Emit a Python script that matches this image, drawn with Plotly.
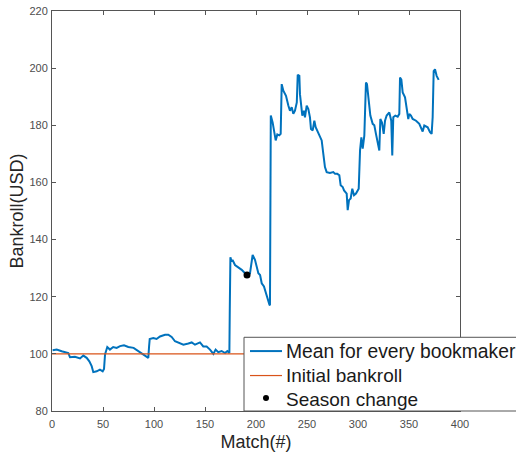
import plotly.graph_objects as go

# ---- data ----
match_no = [0.6, 4.6, 9.5, 16, 17.6, 22.5, 27.5, 30.7, 34, 36.6, 38.9, 40.5, 43.8, 47, 49.7, 51,
            52, 54.2, 56.8, 60, 63.4, 66.7, 70.6, 74.8, 80, 84.6, 89.5, 94.4, 95.2, 95.8, 99.3,
            102.5, 105.9, 110.8, 114, 117.3, 120.6, 123.9, 128.8, 133.7, 137, 140.2, 145.1,
            148.3, 151.6, 154.9, 158.2, 160.4, 163, 166.3, 169.6, 171.9, 173.5, 173.9, 174.3,
            174.9, 176.1, 177, 179.4, 182.7, 186, 189.2, 191.5, 194.1, 195.8, 196.7, 199, 200.7,
            202.3, 204, 205.6, 207.8, 209.8, 212.1, 213.2, 213.7, 214.1, 214.5, 216.3, 217.6,
            219.3, 220.9, 222.8, 224.2, 225.2, 226.8, 229.4, 231.7, 233.3, 235, 236.6, 238.2,
            240, 240.9, 242.5, 243.1, 244.1, 245.4, 247, 248, 249.7, 251.3, 252.9, 253.9, 255.6,
            257.2, 258.5, 260.5, 262.7, 264.4, 266, 267.6, 269.3, 272.5, 275.8, 277.5, 279.7,
            281.7, 283, 285, 286.3, 287.3, 288.9, 289.9, 291.2, 292.8, 294.4, 296.1, 298, 300.7,
            302, 303.3, 304.6, 306.2, 307.8, 308.8, 310.5, 312.1, 314.4, 316, 317.6, 319.3,
            320.9, 321.9, 323.5, 325.2, 326.5, 328.1, 329.7, 330.7, 331.7, 332.6, 333.6, 334.6,
            336.6, 338.9, 340.5, 341.2, 342.5, 343.8, 346.1, 347.7, 349.3, 350.3, 351.9, 353.6,
            356.9, 360.1, 363.4, 365, 368.3, 370.6, 372.2, 373.2, 374.2, 375.5, 377.1, 379.1]
bankroll = [101.3, 101.5, 100.9, 100.3, 98.8, 99.0, 98.4, 99.4, 98.6, 97.4, 95.7, 93.6, 93.9, 94.5,
            93.9, 94.7, 99.8, 102.4, 101.5, 102.4, 102.1, 102.7, 103.0, 102.4, 102.1, 100.9,
            99.8, 98.6, 102.7, 105.2, 105.5, 105.2, 106.1, 106.7, 106.7, 105.9, 104.4, 103.8,
            103.2, 103.6, 104.0, 103.2, 104.0, 102.6, 102.6, 101.5, 100.0, 101.5, 100.6, 101.0,
            100.3, 101.0, 100.3, 100.3, 116.0, 133.8, 132.3, 132.9, 131.1, 130.3, 129.4, 128.2,
            127.6, 128.2, 133.4, 134.6, 132.9, 130.5, 128.2, 127.6, 124.7, 123.6, 121.2, 117.8,
            117.2, 117.0, 168.0, 183.4, 181.0, 178.7, 174.7, 176.8, 176.5, 177.0, 194.4, 192.1,
            190.3, 186.9, 185.1, 186.3, 184.0, 185.1, 188.0, 197.7, 197.3, 190.9, 188.0, 183.4,
            185.1, 182.8, 186.9, 185.7, 182.8, 178.7, 178.2, 181.6, 179.3, 177.6, 175.8, 174.7,
            170.0, 165.4, 163.6, 163.3, 163.6, 163.0, 163.0, 162.5, 159.0, 158.4, 157.2, 156.7,
            156.1, 150.3, 153.8, 154.4, 157.8, 155.5, 156.1, 157.8, 171.2, 175.8, 171.8, 176.4,
            195.0, 194.4, 188.6, 183.4, 180.5, 180.0, 177.0, 173.5, 171.2, 182.2, 181.0, 177.0,
            181.6, 183.4, 184.0, 184.5, 183.0, 181.6, 169.4, 182.8, 183.4, 183.0, 184.0, 196.7,
            196.0, 191.5, 189.8, 186.3, 182.2, 184.0, 183.4, 182.2, 181.6, 180.5, 177.8, 179.9,
            179.3, 177.6, 177.0, 182.8, 199.0, 199.6, 197.3, 195.9]
initial_x = [0, 380]
initial_y = [100, 100]
season_x = [191.2]
season_y = [127.6]

x_ticks = [0, 50, 100, 150, 200, 250, 300, 350, 400]
y_ticks = [80, 100, 120, 140, 160, 180, 200, 220]
legend_names = ["Mean for every bookmaker", "Initial bankroll", "Season change"]

BLUE = "#0072BD"
ORANGE = "#D95319"
FONT = "Liberation Sans, Arial, sans-serif"

fig = go.Figure()
fig.add_trace(go.Scatter(x=match_no, y=bankroll, mode="lines",
                         line=dict(color=BLUE, width=2), name=legend_names[0]))
fig.add_trace(go.Scatter(x=initial_x, y=initial_y, mode="lines",
                         line=dict(color=ORANGE, width=1.2), name=legend_names[1]))
fig.add_trace(go.Scatter(x=season_x, y=season_y, mode="markers",
                         marker=dict(color="black", size=7), name=legend_names[2]))

axis_common = dict(showgrid=False, zeroline=False, showline=True, linecolor="#555555",
                   linewidth=1, mirror="ticks", ticks="inside", ticklen=4, tickwidth=1,
                   automargin=False,
                   tickcolor="#555555", tickfont=dict(family=FONT, size=11, color="#4d4d4d"))
fig.update_xaxes(range=[0, 400], tickvals=x_ticks, ticklabelstandoff=3, **axis_common,
                 title=dict(text="Match(#)", font=dict(family=FONT, size=18, color="#262626"),
                            standoff=6))
fig.update_yaxes(range=[80, 220], tickvals=y_ticks, ticklabelstandoff=1, **axis_common,
                 title=dict(text="Bankroll(USD)", font=dict(family=FONT, size=18, color="#262626"),
                            standoff=1))

# ---- custom legend box (matches MATLAB legend overflowing the figure) ----
L, R, T, B = 52, 460, 11, 411.5
W, H = R - L, B - T
def px(x):
    return (x - L) / W
def py(y):
    return (B - y) / H

fig.add_shape(type="rect", xref="paper", yref="paper", x0=px(244), x1=px(700),
              y0=0, y1=py(337.7), fillcolor="white", line=dict(color="#555555", width=1),
              layer="above")
rows = [351.5, 376, 399.5]
fig.add_shape(type="line", xref="paper", yref="paper", x0=px(250), x1=px(282),
              y0=py(rows[0]), y1=py(rows[0]), line=dict(color=BLUE, width=2), layer="above")
fig.add_shape(type="line", xref="paper", yref="paper", x0=px(250), x1=px(282),
              y0=py(rows[1]), y1=py(rows[1]), line=dict(color=ORANGE, width=1.2), layer="above")
fig.add_shape(type="circle", xref="paper", yref="paper", xsizemode="pixel", ysizemode="pixel",
              xanchor=px(266), yanchor=py(rows[2] - 1), x0=-3, x1=3, y0=-3, y1=3,
              fillcolor="black", line=dict(color="black", width=0), layer="above")
sizes = [19.3, 19, 19]
for name, r, s in zip(legend_names, rows, sizes):
    fig.add_annotation(xref="paper", yref="paper", x=px(284), y=py(r), text=name,
                       showarrow=False, xanchor="left", yanchor="middle",
                       font=dict(family=FONT, size=s, color="#1a1a1a"))

fig.update_layout(width=516, height=452, margin=dict(l=L, r=516 - R, t=T, b=452 - B),
                  paper_bgcolor="white", plot_bgcolor="white", showlegend=False)

fig.write_html("out.html")
